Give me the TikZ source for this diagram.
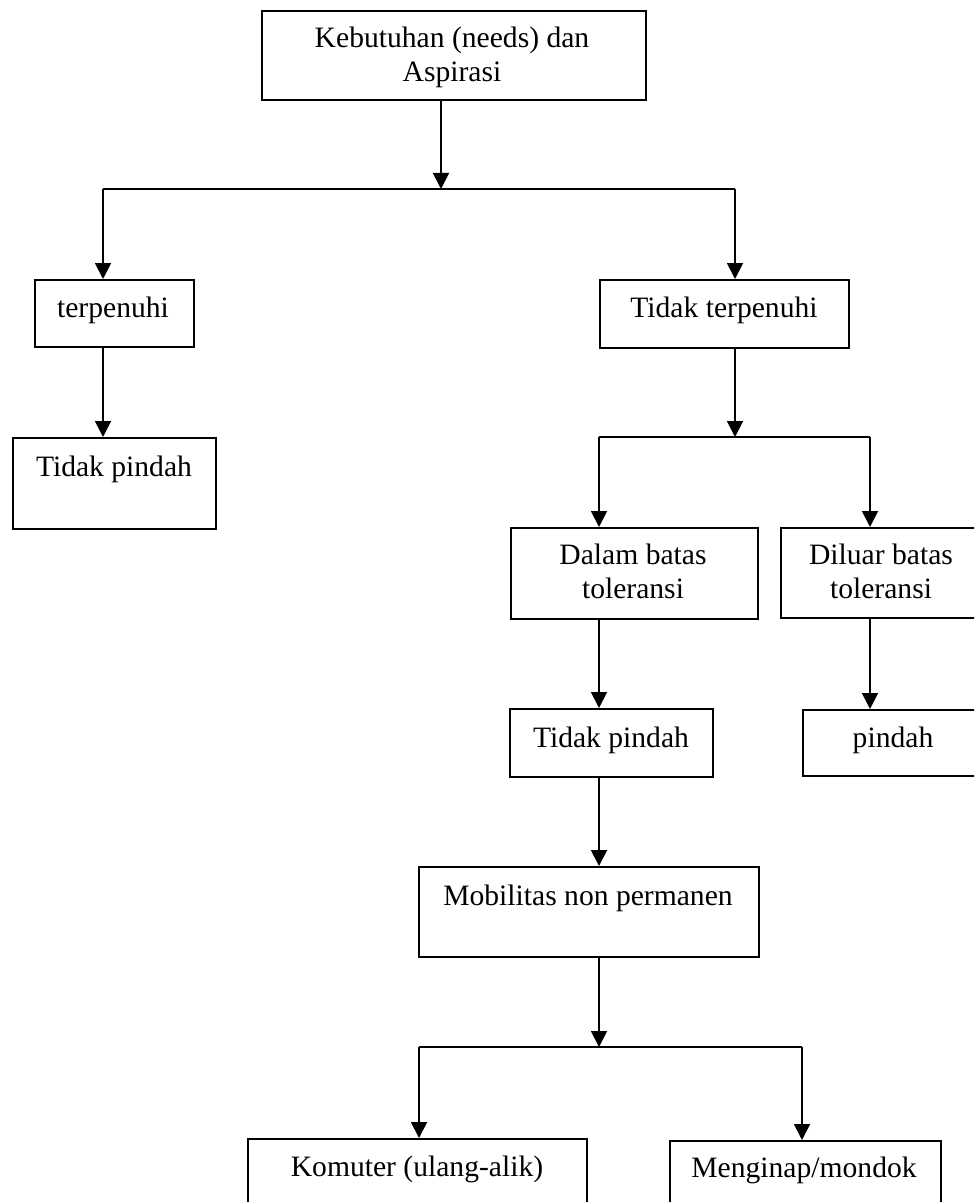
\documentclass[tikz,border=0pt]{standalone}
\usepackage{fontspec}
\setmainfont{Liberation Serif}
\usetikzlibrary{arrows.meta}
\begin{document}
\begin{tikzpicture}[x=0.75pt,y=-0.75pt,
  box/.style={draw, line width=1.4pt, inner sep=0pt, anchor=north west, shape=rectangle},
  txt/.style={inner sep=0pt, font=\fontsize{22.2}{25.5}\selectfont, align=center, anchor=base},
  ln/.style={line width=1.4pt},
  arr/.style={line width=1.4pt, -{Triangle[width=12pt,length=12pt]}}]
\useasboundingbox (0,0) rectangle (974,1202);
\clip (0,0) rectangle (974,1202);
% boxes
\node[box, minimum width=288pt, minimum height=66.75pt] (top) at (261,10) {};
\node[box, minimum width=119.25pt, minimum height=50.25pt] (terp) at (34,279) {};
\node[box, minimum width=152.25pt, minimum height=68.25pt] (tp1) at (12,437) {};
\node[box, minimum width=186.75pt, minimum height=51pt] (tt) at (599,279) {};
\node[box, minimum width=185.25pt, minimum height=68.25pt] (dalam) at (510,527) {};
\node[box, minimum width=151.5pt, minimum height=67.5pt] (diluar) at (780,527) {};
\node[box, minimum width=152.25pt, minimum height=51pt] (tp2) at (509,708) {};
\node[box, minimum width=136.5pt, minimum height=49.5pt] (pindah) at (802,709) {};
\node[box, minimum width=255pt, minimum height=67.5pt] (mob) at (418,866) {};
\node[box, minimum width=254.25pt, minimum height=69pt] (kom) at (247,1138) {};
\node[box, minimum width=203.25pt, minimum height=67.5pt] (meng) at (669,1140) {};
% texts (base anchor of a two-line text is its last line)
\node[txt] (ttop) at (452,82) {Kebutuhan (needs) dan\\Aspirasi};
\node[txt] (tterp) at (113,317) {terpenuhi};
\node[txt] (ttp1) at (114,476) {Tidak pindah};
\node[txt] (ttt) at (724,317) {Tidak terpenuhi};
\node[txt] (tdalam) at (633,598) {Dalam batas\\toleransi};
\node[txt] (tdiluar) at (881,598) {Diluar batas\\toleransi};
\node[txt] (ttp2) at (611,747) {Tidak pindah};
\node[txt] (tpindah) at (893,747) {pindah};
\node[txt] (tmob) at (588,905) {Mobilitas non permanen};
\node[txt] (tkom) at (417,1176) {Komuter (ulang-alik)};
\node[txt] (tmeng) at (804,1177) {Menginap/mondok};
% junctions
\coordinate (j1) at (441,189);
\coordinate (j1l) at (103,189);
\coordinate (j1r) at (735,189);
\coordinate (j2) at (735,437);
\coordinate (j2l) at (599,437);
\coordinate (j2r) at (870,437);
\coordinate (j3) at (599,1047);
\coordinate (j3l) at (419,1047);
\coordinate (j3r) at (802,1047);
% connectors
\draw[arr] (top.south -| j1) -- (j1);
\draw[ln] (j1l) -- (j1r);
\draw[arr] (j1l) -- (terp.north -| j1l);
\draw[arr] (j1r) -- (tt.north -| j1r);
\draw[arr] (terp.south -| j1l) -- (tp1.north -| j1l);
\draw[arr] (tt.south -| j2) -- (j2);
\draw[ln] (j2l) -- (j2r);
\draw[arr] (j2l) -- (dalam.north -| j2l);
\draw[arr] (j2r) -- (diluar.north -| j2r);
\draw[arr] (dalam.south -| j2l) -- (tp2.north -| j2l);
\draw[arr] (diluar.south -| j2r) -- (pindah.north -| j2r);
\draw[arr] (tp2.south -| j2l) -- (mob.north -| j2l);
\draw[arr] (mob.south -| j3) -- (j3);
\draw[ln] (j3l) -- (j3r);
\draw[arr] (j3l) -- (kom.north -| j3l);
\draw[arr] (j3r) -- (meng.north -| j3r);
\end{tikzpicture}
\end{document}
